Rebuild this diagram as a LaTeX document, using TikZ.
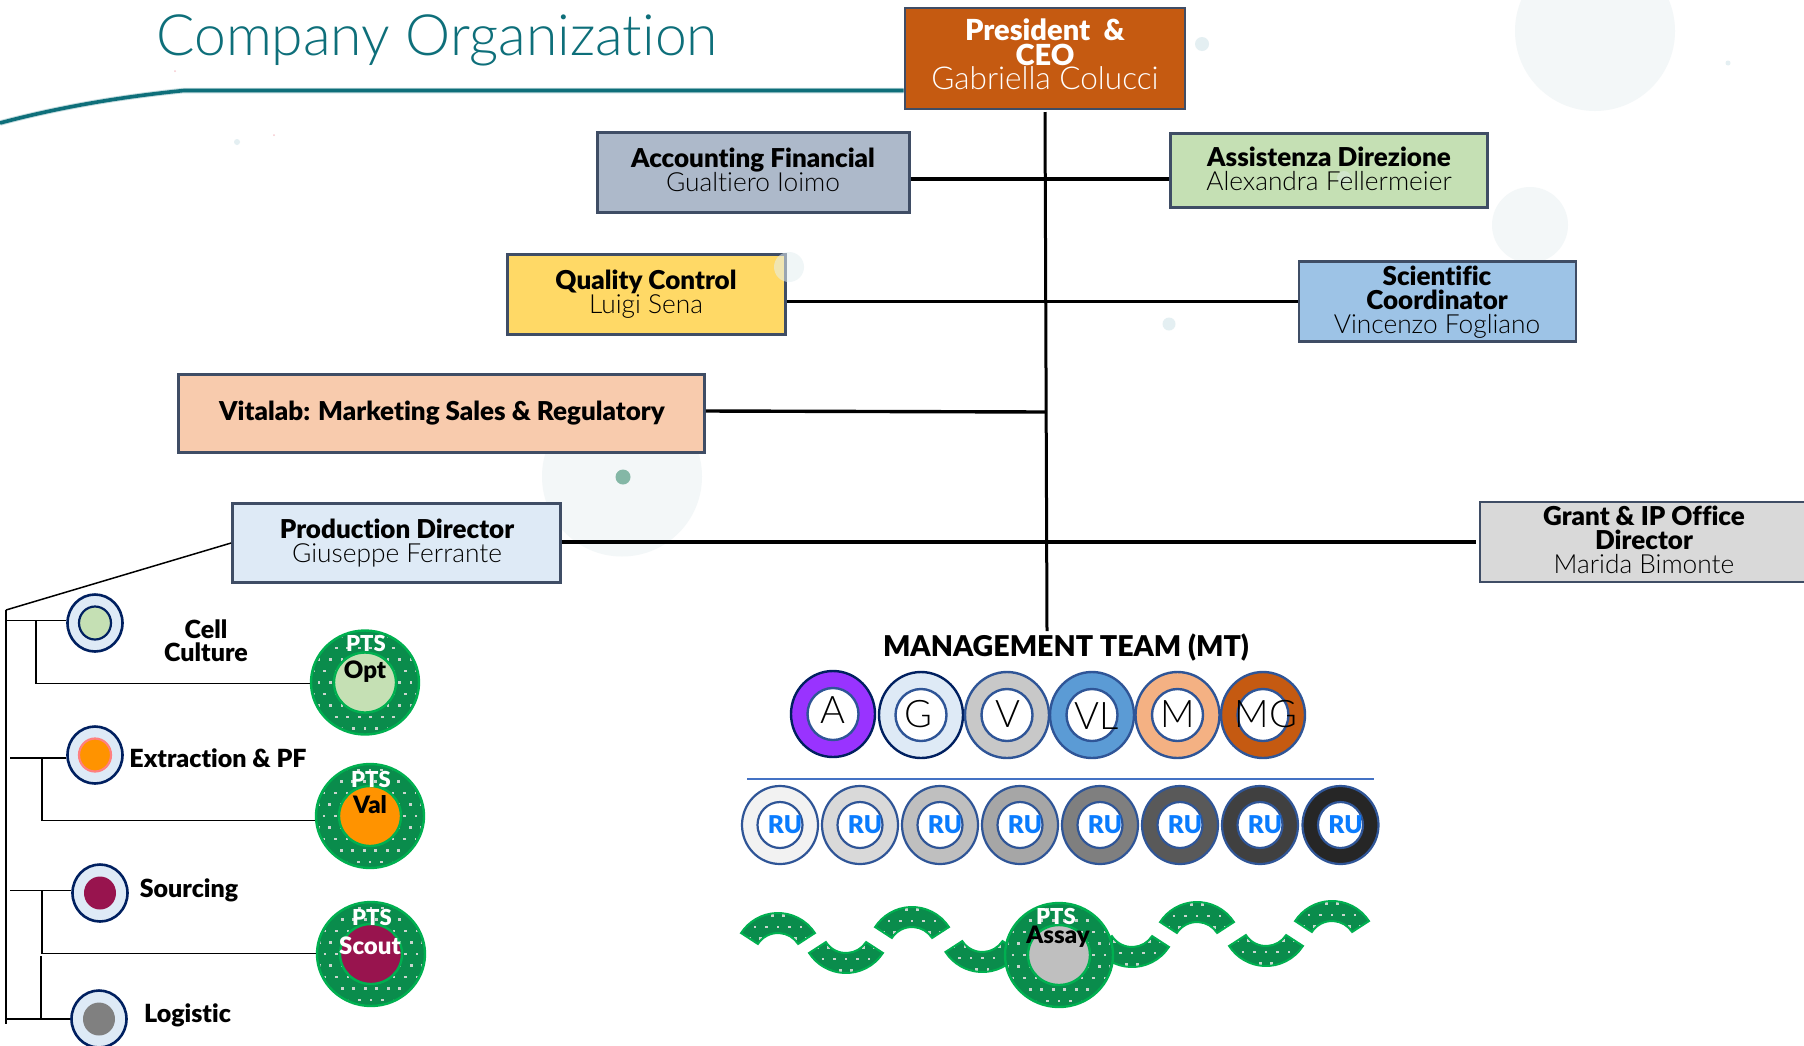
\documentclass[tikz,border=0pt]{standalone}
\usepackage{fontspec}
\usetikzlibrary{shapes.geometric}
\setmainfont{Lato}[BoldFont={Lato Black},Ligatures=NoCommon]
\newfontfamily\lightf{Lato Light}[Ligatures=NoCommon]
\newfontfamily\heavyf{Lato Black}[Ligatures=NoCommon]
\definecolor{teal1}{HTML}{0E6F7A}
\definecolor{boxline}{HTML}{3F4D65}
\definecolor{navy1}{HTML}{002060}
\definecolor{ringblue}{HTML}{2F5597}
\definecolor{ptsdark}{HTML}{0A8C4C}
\definecolor{ptsedge}{HTML}{00B050}
\definecolor{ptsdot}{HTML}{C9D6CE}
\definecolor{blob}{HTML}{F3F7F8}
\definecolor{blobb}{HTML}{E4EFF2}
\definecolor{rublue}{HTML}{0A7CFF}
\definecolor{crimson}{HTML}{98144E}
\definecolor{sage}{HTML}{84B7A6}
\definecolor{sepblue}{HTML}{4472C4}
\definecolor{speck}{HTML}{F6C9CF}
\tikzset{
  x=1pt,y=-1pt,
  hexfill/.code={\definecolor{tmpfill}{HTML}{#1}\pgfkeysalso{fill=tmpfill}},
  hexdraw/.code={\definecolor{tmpdraw}{HTML}{#1}\pgfkeysalso{draw=tmpdraw}},
  orgbox/.style={draw=boxline,line width=2.8pt,rectangle,inner sep=0pt},
  ttext/.style={inner sep=0pt,align=center,font=\fontsize{26}{24}\selectfont},
  ring/.style={ellipse,inner sep=0pt,line width=2.2pt},
  link/.style={black,line width=3.4pt},
  spine/.style={black,line width=3pt},
  tree/.style={black,line width=1.5pt},
  sidelabel/.style={inner sep=0pt,align=center,font=\fontsize{25}{23}\selectfont\bfseries},
  ptstop/.style={inner sep=0pt,text=white,font=\fontsize{22}{22}\selectfont\bfseries},
  ptsin/.style={inner sep=0pt,font=\fontsize{24}{24}\selectfont\bfseries},
  mtletter/.style={inner sep=0pt,font=\fontsize{38}{38}\selectfont\lightf},
  rutext/.style={inner sep=0pt,text=rublue,font=\fontsize{24.5}{24}\selectfont\bfseries},
}
\newcommand{\nm}[1]{{\lightf\fontsize{26.3}{24}\selectfont #1}}
% dots on a staggered grid round a centre
\newcommand{\dotfield}[2]{%
  \foreach \i in {-6,...,5}{\foreach \j in {-6,...,5}{%
    \pgfmathsetmacro{\px}{#1+\i*11.5+mod(abs(\j),2)*5.75}%
    \pgfmathsetmacro{\py}{#2+\j*11.5}%
    \fill[ptsdot] (\px-1.3,\py-1.3) rectangle (\px+1.3,\py+1.3);}}}
% name, x, y, inner colour
\newcommand{\ptsdisc}[4]{%
  \node[ring,draw=ptsedge,fill=ptsdark,line width=2.4pt,minimum width=108pt,minimum height=104pt] (#1) at (#2,#3) {};
  \begin{scope}\clip (#2,#3) ellipse [x radius=52,y radius=50];\dotfield{#2}{#3}\end{scope}
  \node[ring,draw=ptsedge,#4,line width=2.4pt,minimum width=62pt,minimum height=60pt] (#1in) at (#2,#3) {};}
% x, y, sign (1 = U shape, -1 = arch)
\newcommand{\wavepiece}[3]{%
  \begin{scope}[shift={(#1,#2)},yscale=#3]
    \fill[ptsdark] (33:44) arc[start angle=33,end angle=147,radius=44] -- (147:24) arc[start angle=147,end angle=33,radius=24] -- cycle;
    \begin{scope}
      \clip (33:44) arc[start angle=33,end angle=147,radius=44] -- (147:24) arc[start angle=147,end angle=33,radius=24] -- cycle;
      \dotfield{0}{30}
    \end{scope}
    \draw[ptsedge,line width=2pt] (33:44) arc[start angle=33,end angle=147,radius=44] -- (147:24) arc[start angle=147,end angle=33,radius=24] -- cycle;
  \end{scope}}
% name, x, y, inner style
\newcommand{\unitdisc}[4]{%
  \node[ring,draw=navy1,hexfill=DEEAF6,line width=2.6pt,minimum width=55pt,minimum height=57pt] (#1) at (#2,#3) {};
  \node[ring,#4,minimum width=32pt,minimum height=33pt] (#1in) at (#2,#3) {};}
\begin{document}
\begin{tikzpicture}
\useasboundingbox (0,0) rectangle (1804,1045);
\fill[white] (0,0) rectangle (1804,1045);
% faint background
\fill[blob] (1595,31) circle [radius=80];
\fill[blob] (1530,225) circle [radius=38];
\fill[blob] (622,476.5) circle [radius=80];
\fill[blobb] (1202,44) circle [radius=7];
\fill[blobb] (1169,324) circle [radius=6.5];
\fill[blobb] (1728,63) circle [radius=2.5];
\fill[blobb] (237,142) circle [radius=3];
\fill[speck] (274,135) circle [radius=1];
\fill[speck] (175,71) circle [radius=1];
\fill[sage] (623,477) circle [radius=7.5];

% title
\node[inner sep=0pt,text=teal1,anchor=base west,font=\fontsize{57}{57}\selectfont\lightf] (title) at (156,55) {Company Organization};

% boxes
\node[orgbox,hexfill=C55A11,minimum width=280pt,minimum height=101pt] (ceo) at (1045,58.5) {};
\node[orgbox,hexfill=ADB9CA,minimum width=312pt,minimum height=80pt] (acc) at (753.5,172.5) {};
\node[orgbox,hexfill=C5E0B4,minimum width=317pt,minimum height=74pt] (asst) at (1329,170.5) {};
\node[orgbox,hexfill=FFD966,minimum width=278pt,minimum height=80pt] (qc) at (646.5,294.5) {};
\node[orgbox,hexfill=9DC3E6,minimum width=277pt,minimum height=80pt] (sci) at (1437.5,301.5) {};
\node[orgbox,hexfill=F8CBAD,minimum width=526pt,minimum height=78pt] (vita) at (441.5,413.5) {};
\node[orgbox,hexfill=DEEAF6,minimum width=328pt,minimum height=79pt] (prod) at (396.5,543) {};
\node[orgbox,hexfill=D9D9D9,minimum width=331pt,minimum height=80pt] (grant) at (1645.5,542) {};
\fill[blobb,opacity=.55] (789,267) circle [radius=15];
\fill[blobb,opacity=.4] (1344,178) circle [radius=7];

\node[ttext,text=white,font=\fontsize{29}{24.5}\selectfont] (ceot) at (1045,54.5) {\textbf{President \ \&}\\\textbf{CEO}\\{\lightf\fontsize{31.5}{24.5}\selectfont Gabriella Colucci}};
\node[ttext] (acct) at (753,169.5) {\textbf{Accounting Financial}\\\nm{Gualtiero Ioimo}};
\node[ttext] (asstt) at (1329,168.5) {\textbf{Assistenza Direzione}\\\nm{Alexandra Fellermeier}};
\node[ttext] (qct) at (646,294) {\textbf{Quality Control}\\\nm{Luigi Sena}};
\node[ttext] (scit) at (1437,302) {\textbf{Scientific}\\\textbf{Coordinator}\\\nm{Vincenzo Fogliano}};
\node[ttext] (vitat) at (442,413) {\textbf{Vitalab: Marketing Sales \& Regulatory}};
\node[ttext] (prodt) at (397,543) {\textbf{Production Director}\\\nm{Giuseppe Ferrante}};
\node[ttext] (grantt) at (1644,540) {\textbf{Grant \& IP Office}\\\textbf{Director}\\\nm{Marida Bimonte}};

% title rule
\draw[teal1!25,line width=5.5pt] (ceo.west|-0,90.5) -- (184,90.5) .. controls (120,97) and (60,107) .. (0,123);
\draw[teal1,line width=3.6pt] (ceo.west|-0,90.5) -- (184,90.5) .. controls (120,97) and (60,107) .. (0,123);

% management team
\node[inner sep=0pt,font=\fontsize{28.6}{29}\selectfont\heavyf] (mt) at (1066,648) {MANAGEMENT TEAM (MT)};
\coordinate (spinetop) at (1045,112);
\coordinate (spineend) at (1047,631);
\draw[spine] (spinetop) -- (spineend);
\coordinate (r1) at (0,179);
\coordinate (r2) at (0,301.5);
\coordinate (r3) at (0,411);
\coordinate (r4) at (0,542);
\coordinate (r3end) at (1046.3,412);
\coordinate (grantgap) at (1476,542);
\draw[link] (acc.east|-r1) -- (asst.west|-r1);
\draw[link] (qc.east|-r2) -- (sci.west|-r2);
\draw[link] (vita.east|-r3) -- (r3end);
\draw[link] (prod.east|-r4) -- (grantgap);

\foreach \n/\x/\y/\c/\e/\t/\tx/\ty in {
  a/833/714/9933FF/002060/A/833/710,
  g/921/715/DEEAF6/002060/G/918/714,
  v/1007/715/C8C8C8/2F5597/V/1008/714,
  vl/1092/715/5B9BD5/2F5597/VL/1097/716,
  m/1177.5/715/F4B183/2F5597/M/1178/714,
  mg/1263/715/C55A11/2F5597/MG/1266/714}{
  \node[ring,hexdraw=\e,hexfill=\c,line width=2.4pt,minimum width=84pt,minimum height=86pt] (mt\n) at (\x,\y) {};
  \node[ring,draw=ringblue,fill=white,line width=2.4pt,minimum width=51pt,minimum height=52pt] (mt\n in) at (\x,\y) {};
  \node[mtletter] (mt\n t) at (\tx,\ty) {\t};
}
\coordinate (sepa) at (747,779);
\coordinate (sepb) at (1373.5,779);
\draw[sepblue,line width=1.4pt] (sepa) -- (sepb);

\foreach \i/\x/\c in {1/780/F2F2F2,2/860/D9D9D9,3/940/BFBFBF,4/1020/A6A6A6,5/1100/7F7F7F,6/1180/595959,7/1260/404040,8/1340.5/262626}{
  \node[ring,draw=ringblue,hexfill=\c,line width=2.2pt,minimum width=76pt,minimum height=78pt] (ru\i) at (\x,825) {};
  \node[ring,draw=ringblue,fill=white,line width=2.2pt,minimum width=45pt,minimum height=46pt] (ru\i in) at (\x,825) {};
  \node[rutext] (ru\i t) at (\x+5,825) {RU};
}

% PTS wave
\wavepiece{778}{957}{-1}
\wavepiece{846}{929}{1}
\wavepiece{912}{951}{-1}
\wavepiece{982.4}{928}{1}
\wavepiece{1132}{923}{1}
\wavepiece{1197}{946}{-1}
\wavepiece{1266}{922}{1}
\wavepiece{1332}{945}{-1}
\ptsdisc{assay}{1059}{955}{hexfill=BFBFBF}
\node[ptstop] (assayt) at (1056,916) {PTS};
\node[ptsin] (assayn) at (1058,936.5) {Assay};

% production tree
\unitdisc{cell}{95}{623}{draw=navy1,hexfill=C5E0B4}
\unitdisc{extr}{95}{755}{hexdraw=FF8080,hexfill=FF9300}
\unitdisc{sour}{100}{893}{fill=crimson}
\unitdisc{logi}{99}{1019}{hexfill=808080}
\ptsdisc{opt}{365}{682.5}{hexfill=C5E0B4}
\ptsdisc{val}{370}{816}{hexfill=FF9300}
\ptsdisc{scout}{371}{954}{fill=crimson}
\node[ptstop] (optt) at (366,643) {PTS};
\node[ptsin] (optn) at (365,672) {Opt};
\node[ptstop] (valt) at (371,779) {PTS};
\node[ptsin] (valn) at (370,805) {Val};
\node[ptstop] (scoutt) at (372,917) {PTS};
\node[ptsin,text=white] (scoutn) at (370,945.5) {Scout};

\node[sidelabel] (cellt) at (206,641) {Cell\\Culture};
\node[sidelabel] (extrt) at (218,758.5) {Extraction \& PF};
\node[sidelabel] (sourt) at (189,890) {Sourcing};
\node[sidelabel] (logit) at (187.5,1015) {Logistic};

\coordinate (root) at (6,610);
\coordinate (rootend) at (6,1024);
\coordinate (c1) at (5,620.5);
\coordinate (c1b) at (36,620.5);
\coordinate (c1c) at (36,683.5);
\coordinate (c2) at (10,758);
\coordinate (c2b) at (42,758);
\coordinate (c2c) at (42,820.5);
\coordinate (c3) at (10,890.5);
\coordinate (c3b) at (42,890.5);
\coordinate (c3c) at (42,953.5);
\coordinate (c4) at (5,1019);
\coordinate (c4b) at (41,1019);
\coordinate (c4c) at (41,956);
\draw[tree] (prod.west) -- (root);
\draw[tree] (root) -- (rootend);
\draw[tree] (c1) -- (cell.west|-c1);
\draw[tree] (c1b) -- (c1c) -- (opt.west|-c1c);
\draw[tree] (c2) -- (extr.west|-c2);
\draw[tree] (c2b) -- (c2c) -- (val.west|-c2c);
\draw[tree] (c3) -- (sour.west|-c3);
\draw[tree] (c3b) -- (c3c) -- (scout.west|-c3c);
\draw[tree] (c4) -- (logi.west|-c4);
\draw[tree] (c4b) -- (c4c);
\end{tikzpicture}
\end{document}
